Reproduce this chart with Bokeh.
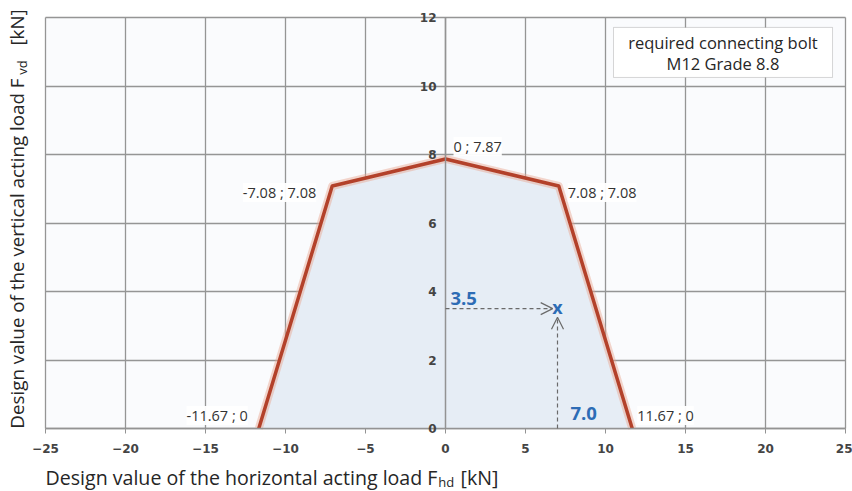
import math
from bokeh.plotting import figure
from bokeh.models import (Range1d, FixedTicker, LabelSet, ColumnDataSource, Label,
                          Arrow, OpenHead, BoxAnnotation)
from bokeh.embed import file_html
from bokeh.resources import INLINE
from bokeh.core.properties import value

# ---- data ----
env_x = [-11.67, -7.08, 0.0, 7.08, 11.67]
env_y = [0.0, 7.08, 7.87, 7.08, 0.0]
x_ticks = [-25, -20, -15, -10, -5, 0, 5, 10, 15, 20, 25]
y_ticks = [0, 2, 4, 6, 8, 10, 12]
check_hd = 7.0
check_vd = 3.5
bolt_note = ["required connecting bolt", "M12 Grade 8.8"]
x_title = ["Design value of the horizontal acting load F", "hd", "[kN]"]
y_title = ["Design value of the vertical acting load F", "vd", "[kN]"]

# ---- styles ----
FONT = "Open Sans"
BLUE = "#2d6cb5"
RED = "#b3412a"
GRID = "#959595"
TXT = "#262626"
X0, X1 = x_ticks[0], x_ticks[-1]
Y0, Y1 = y_ticks[0], y_ticks[-1]

# the frame covers the whole canvas; the chart area is bounded to the tick ranges
p = figure(frame_width=852, frame_height=491,
           x_range=Range1d(-27.8125, 25.4375), y_range=Range1d(-1.8394, 12.4964),
           output_backend="svg", toolbar_location=None,
           min_border_left=0, min_border_right=0, min_border_top=0, min_border_bottom=0)

p.background_fill_color = "white"
p.border_fill_color = "white"
p.outline_line_color = None

# chart area background
p.quad(left=[X0], right=[X1], bottom=[Y0], top=[Y1], fill_color="#fafbfd",
       line_color=None, level="image")

p.xaxis.ticker = FixedTicker(ticks=x_ticks)
p.yaxis.ticker = FixedTicker(ticks=y_ticks)
p.xaxis.fixed_location = Y0
p.yaxis.fixed_location = 0
p.xaxis.bounds = (X0, X1)
p.yaxis.bounds = (Y0, Y1)
for ax in (p.xaxis[0], p.yaxis[0]):
    ax.axis_line_color = "#939393"
    ax.axis_line_width = 1.5
    ax.major_tick_line_color = "#939393"
    ax.minor_tick_line_color = None
    ax.major_label_text_font = "DejaVu Sans"
    ax.major_label_text_font_style = "bold"
    ax.major_label_text_font_size = "12px"
    ax.major_label_text_color = "#444444"
p.xaxis.major_tick_out = 5
p.xaxis.major_tick_in = 0
p.xaxis.major_label_standoff = 10
p.yaxis.major_tick_out = 0
p.yaxis.major_tick_in = 0
p.yaxis.major_label_standoff = 9
if "major_label_background_fill_color" in p.yaxis[0].properties():
    p.yaxis[0].major_label_background_fill_color = "#fafbfd"

# grid lines restricted to the chart area
gx, gy = p.xgrid[0], p.ygrid[0]
if "cross_bounds" in gx.properties():
    for g, b, cb in ((gx, (X0, X1), (Y0, Y1)), (gy, (Y0, Y1), (X0, X1))):
        g.ticker = FixedTicker(ticks=x_ticks if g is gx else y_ticks)
        g.bounds = b
        g.cross_bounds = cb
        g.grid_line_color = GRID
        g.grid_line_width = 1.3
else:
    gx.visible = False
    gy.visible = False
    p.segment(x0=x_ticks, y0=[Y0] * len(x_ticks), x1=x_ticks, y1=[Y1] * len(x_ticks),
              line_color=GRID, line_width=1.3, level="underlay")
    p.segment(x0=[X0] * len(y_ticks), y0=y_ticks, x1=[X1] * len(y_ticks), y1=y_ticks,
              line_color=GRID, line_width=1.3, level="underlay")

# ---- envelope ----
p.patch(env_x, env_y, fill_color="#e6edf5", line_color=None)
p.line(env_x, env_y, line_color="#e9a38f", line_alpha=0.45, line_width=8, line_join="round")
p.line(env_x, env_y, line_color=RED, line_width=3.5, line_join="round")

# ---- point labels ----
lbl = ColumnDataSource(dict(
    x=env_x, y=env_y,
    t=[f"{a:g} ; {b:g}" for a, b in zip(env_x, env_y)],
    align=["right", "right", "left", "left", "left"],
    xo=[-11, -16, 8, 9, 5],
    yo=[13, -6.5, 12.5, -6.5, 13],
))
p.add_layout(LabelSet(x="x", y="y", text="t", source=lbl, x_offset="xo", y_offset="yo",
                      text_align="align", text_baseline="middle",
                      text_font=value(FONT), text_font_size="14.5px", text_color="#333333",
                      background_fill_color="white", background_fill_alpha=0.95))

# ---- check point with arrows ----
p.add_layout(Arrow(x_start=0, y_start=check_vd, x_end=check_hd - 0.3, y_end=check_vd,
                   line_color="#6a6a6a", line_width=1.2, line_dash="4 3",
                   end=OpenHead(size=12, line_color="#6a6a6a", line_width=1.2)))
p.add_layout(Arrow(x_start=check_hd, y_start=0, x_end=check_hd, y_end=check_vd - 0.25,
                   line_color="#6a6a6a", line_width=1.2, line_dash="4 3",
                   end=OpenHead(size=12, line_color="#6a6a6a", line_width=1.2)))
p.text(x=[check_hd], y=[check_vd], text=["x"], text_font=value(FONT), text_font_style="bold",
       text_font_size="18px", text_color=BLUE, text_align="center", text_baseline="middle",
       y_offset=-2)
p.add_layout(Label(x=0, y=check_vd, text=f"{check_vd:.1f}", x_offset=5, y_offset=10,
                   text_font=FONT, text_font_style="bold", text_font_size="18.5px",
                   text_color=BLUE, text_align="left", text_baseline="middle"))
p.add_layout(Label(x=check_hd, y=0, text=f"{check_hd:.1f}", x_offset=13, y_offset=15,
                   text_font=FONT, text_font_style="bold", text_font_size="18.5px",
                   text_color=BLUE, text_align="left", text_baseline="middle"))

# ---- note box ----
p.add_layout(BoxAnnotation(left=10.5, right=24.19, top=11.71, bottom=10.25,
                           fill_color="white", fill_alpha=1, line_color="#7a7a7a", line_width=1))
for i, s in enumerate(bolt_note):
    p.add_layout(Label(x=17.34, y=11.27 - 0.62 * i, text=s, text_font=FONT, text_font_size="16.5px",
                       text_color=TXT, text_align="center", text_baseline="middle"))

# ---- axis titles ----
p.add_layout(Label(x=-25.0, y=-1.43, text=x_title[0], text_font=FONT, text_font_size="19.6px",
                   text_color=TXT, text_align="left", text_baseline="alphabetic"))
p.add_layout(Label(x=-0.45, y=-1.57, text=x_title[1], text_font=FONT, text_font_size="13px",
                   text_color=TXT, text_align="left", text_baseline="alphabetic"))
p.add_layout(Label(x=0.94, y=-1.43, text=x_title[2], text_font=FONT, text_font_size="19.6px",
                   text_color=TXT, text_align="left", text_baseline="alphabetic"))

# rotated y title: main text anchored at its end, just before the subscript
p.add_layout(Label(x=-26.81, y=10.22, text=y_title[0], angle=math.pi / 2, text_font=FONT,
                   text_font_size="18.8px", text_color=TXT, text_align="right",
                   text_baseline="alphabetic"))
p.add_layout(Label(x=-26.5, y=10.33, text=y_title[1], angle=math.pi / 2, text_font=FONT,
                   text_font_size="13px", text_color=TXT, text_align="left",
                   text_baseline="alphabetic"))
p.add_layout(Label(x=-26.81, y=11.18, text=y_title[2], angle=math.pi / 2, text_font=FONT,
                   text_font_size="18.8px", text_color=TXT, text_align="left",
                   text_baseline="alphabetic"))

open("out.html", "w").write(file_html(p, INLINE))
